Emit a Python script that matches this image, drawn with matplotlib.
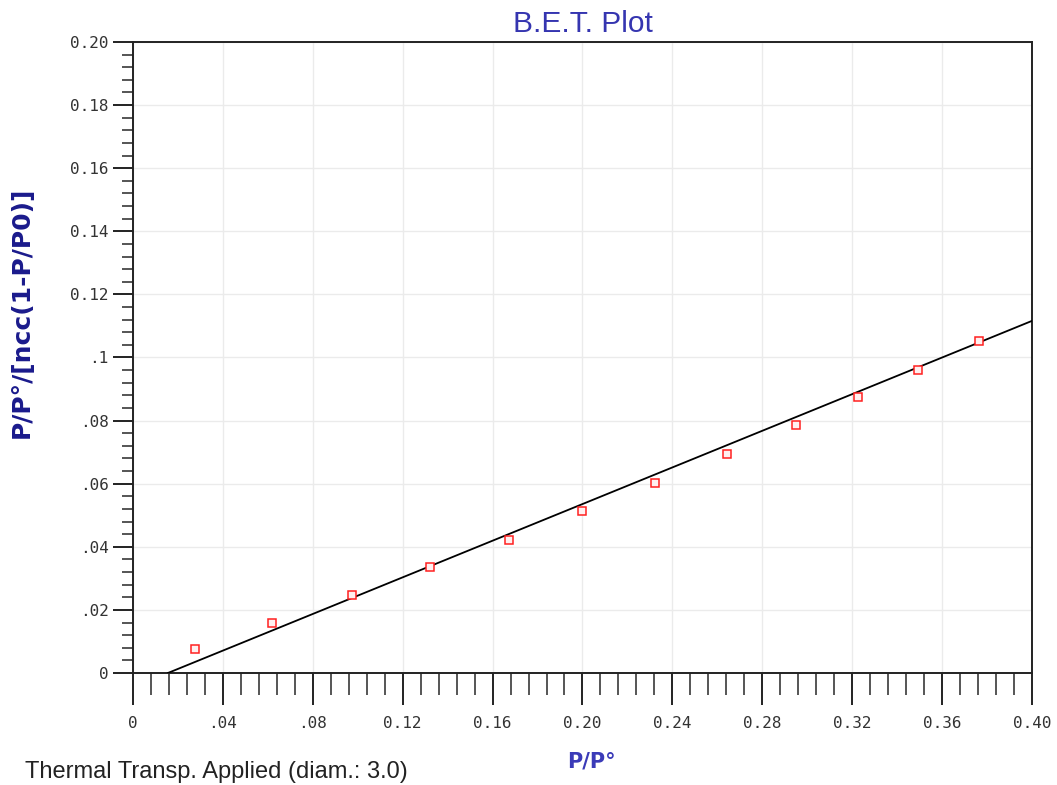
import numpy as np
import matplotlib.pyplot as plt
from matplotlib.ticker import MultipleLocator

# BET data (relative pressure vs. transformed quantity)
rel_pressure = [0.0276, 0.0618, 0.0974, 0.1321, 0.1673, 0.1998,
                0.2323, 0.2643, 0.2950, 0.3226, 0.3493, 0.3764]
bet_value = [0.0076, 0.0158, 0.0247, 0.0336, 0.0422, 0.0513,
             0.0602, 0.0694, 0.0786, 0.0875, 0.0960, 0.1052]

# fitted BET line
fit_slope = 0.2903
fit_intercept = -0.00452

x_ticks = [0, 0.04, 0.08, 0.12, 0.16, 0.20, 0.24, 0.28, 0.32, 0.36, 0.40]
x_tick_labels = ["0", ".04", ".08", "0.12", "0.16", "0.20", "0.24",
                 "0.28", "0.32", "0.36", "0.40"]
y_ticks = [0, 0.02, 0.04, 0.06, 0.08, 0.10, 0.12, 0.14, 0.16, 0.18, 0.20]
y_tick_labels = ["0", ".02", ".04", ".06", ".08", ".1", "0.12", "0.14",
                 "0.16", "0.18", "0.20"]

fig = plt.figure(figsize=(10.57, 7.85), dpi=100)
ax = fig.add_axes([0.1258, 0.1427, 0.8505, 0.8038])

ax.set_xlim(0, 0.40)
ax.set_ylim(0, 0.20)

# grid
ax.grid(True, which="major", color="#ebebeb", linewidth=1.0)
ax.set_axisbelow(True)

# fit line
x_line = np.array([-fit_intercept / fit_slope, 0.40])
ax.plot(x_line, fit_slope * x_line + fit_intercept, color="black",
        linewidth=1.3, zorder=3)

# points
ax.plot(rel_pressure, bet_value, linestyle="none", marker="s",
        markersize=5.5, markerfacecolor="#fff0f0", markeredgecolor="#ff2020",
        markeredgewidth=1.1, zorder=4)

# ticks
ax.set_xticks(x_ticks, x_tick_labels)
ax.set_yticks(y_ticks, y_tick_labels)
ax.xaxis.set_minor_locator(MultipleLocator(0.008))
ax.yaxis.set_minor_locator(MultipleLocator(0.004))

for lab in ax.get_xticklabels() + ax.get_yticklabels():
    lab.set_fontfamily("DejaVu Sans Mono")
    lab.set_fontsize(11.5)
    lab.set_color("#333333")

ax.tick_params(axis="x", which="major", direction="out", length=23,
               width=1.4, pad=8, color="#222222")
ax.tick_params(axis="x", which="minor", direction="out", length=16,
               width=1.4, color="#555555")
ax.tick_params(axis="y", which="major", direction="out", length=14.5,
               width=1.4, pad=3, color="#222222")
ax.tick_params(axis="y", which="minor", direction="out", length=8,
               width=1.4, color="#555555")

for sp in ax.spines.values():
    sp.set_linewidth(1.4)
    sp.set_color("#222222")

# labels
ax.set_title("B.E.T. Plot", fontsize=21.5, color="#3535b0",
             fontfamily="Liberation Sans", y=1.029, va="center", pad=0)
ax.set_xlabel("P/P°", fontsize=15, fontweight="bold", color="#3b3bb8",
              fontfamily="DejaVu Sans")
ax.xaxis.set_label_coords(0.51, -0.125)
ax.set_ylabel("P/P°/[ncc(1-P/P0)]", fontsize=18, fontweight="bold",
              color="#1a1a8c", fontfamily="DejaVu Sans")
ax.yaxis.label.set_va("center")
ax.yaxis.set_label_coords(-0.1235, 0.572)

fig.text(25 / 1057, 1 - 772 / 785, "Thermal Transp. Applied (diam.: 3.0)",
         fontsize=17, color="#222222", fontfamily="Liberation Sans",
         va="center", ha="left")

fig.savefig("out.png", dpi=100)
